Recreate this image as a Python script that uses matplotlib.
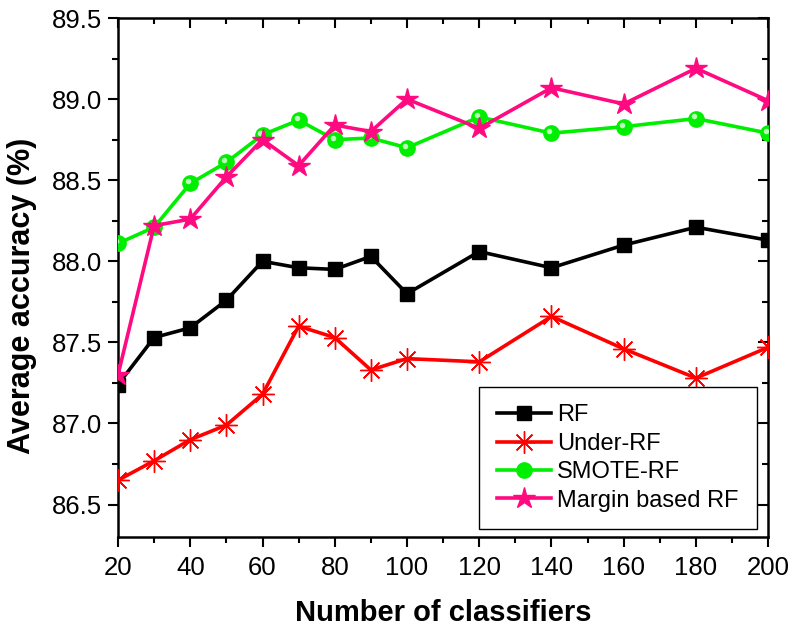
import matplotlib.pyplot as plt
from matplotlib.ticker import MultipleLocator
from matplotlib.transforms import offset_copy

plt.rcParams['font.family'] = ['Liberation Sans', 'DejaVu Sans']

# number of trees in the forest
n_classifiers = [20, 30, 40, 50, 60, 70, 80, 90, 100, 120, 140, 160, 180, 200]

acc_rf = [87.24, 87.53, 87.59, 87.76, 88.00, 87.96, 87.95, 88.03, 87.80,
          88.06, 87.96, 88.10, 88.21, 88.13]
acc_under = [86.65, 86.77, 86.90, 86.99, 87.18, 87.60, 87.53, 87.33, 87.40,
             87.38, 87.66, 87.46, 87.28, 87.47]
acc_smote = [88.11, 88.21, 88.48, 88.61, 88.78, 88.87, 88.75, 88.76, 88.70,
             88.89, 88.79, 88.83, 88.88, 88.79]
acc_margin = [87.30, 88.22, 88.26, 88.52, 88.75, 88.59, 88.84, 88.80, 89.00,
              88.82, 89.07, 88.97, 89.19, 88.99]

PINK = '#ff0a80'
GREEN = '#00ee00'

fig = plt.figure(figsize=(7.92, 6.3), dpi=100)
ax = fig.add_axes([0.149, 0.1476, 0.821, 0.8238])

lw = 2.6
ax.plot(n_classifiers, acc_rf, '-s', color='black', lw=lw, ms=10,
        label='RF', zorder=3)
ax.plot(n_classifiers, acc_under, '-', color='red', lw=lw, marker=(8, 2, 0),
        ms=16, mew=1.0, label='Under-RF', zorder=3)
ax.plot(n_classifiers, acc_smote, '-o', color=GREEN, lw=lw, ms=11,
        mec=GREEN, label='SMOTE-RF', zorder=3)
# little highlight on the green balls
shine = offset_copy(ax.transData, fig=fig, x=-1.5, y=1.5, units='points')
ax.plot(n_classifiers, acc_smote, 'o', color='#b8ffb8', ms=4, mew=0,
        transform=shine, zorder=4)
ax.plot(n_classifiers, acc_margin, '-*', color=PINK, lw=lw, ms=16,
        label='Margin based RF', zorder=5)

ax.set_xlim(20, 200)
ax.set_ylim(86.3, 89.5)
ax.xaxis.set_major_locator(MultipleLocator(20))
ax.xaxis.set_minor_locator(MultipleLocator(10))
ax.yaxis.set_major_locator(MultipleLocator(0.5))
ax.yaxis.set_minor_locator(MultipleLocator(0.25))
ax.yaxis.set_major_formatter(plt.FormatStrFormatter('%.1f'))

ax.tick_params(which='both', top=True, right=True, labelsize=18.5,
               width=1.5, direction='out')
ax.tick_params(which='major', length=7.5)
ax.tick_params(which='minor', length=4.3)
ax.tick_params(axis='x', pad=6)
ax.tick_params(axis='y', pad=4)
# mirrored ticks on the top and right point into the plot
for tick in ax.xaxis.get_major_ticks() + ax.xaxis.get_minor_ticks():
    tick.tick2line.set_marker(3)
for tick in ax.yaxis.get_major_ticks() + ax.yaxis.get_minor_ticks():
    tick.tick2line.set_marker(0)
for side in ax.spines.values():
    side.set_linewidth(1.8)

ax.set_xlabel('Number of classifiers', fontsize=21, fontweight='bold',
              labelpad=14)
ax.set_ylabel('Average accuracy (%)', fontsize=22, fontweight='bold')
ax.yaxis.set_label_coords(-0.124, 0.464)

leg = ax.legend(loc='lower right', bbox_to_anchor=(0.982, 0.015),
                fontsize=17, frameon=True, fancybox=False,
                edgecolor='black', framealpha=1, labelspacing=0.27,
                handlelength=2.3, handletextpad=0.25, borderpad=0.75,
                borderaxespad=0)
leg.get_frame().set_linewidth(1.0)

fig.savefig('out.png', dpi=100)
